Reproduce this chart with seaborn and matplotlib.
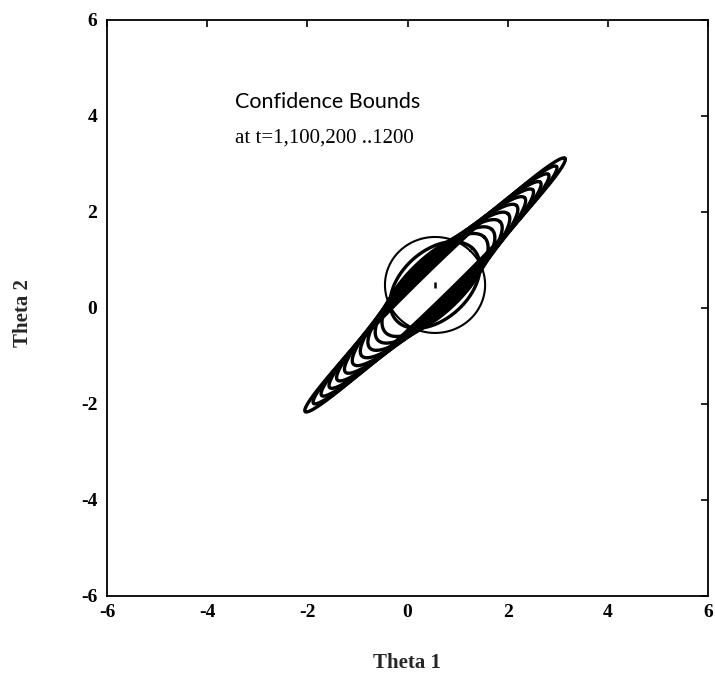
import numpy as np
import pandas as pd
import matplotlib
matplotlib.use("Agg")
import matplotlib.pyplot as plt
import seaborn as sns

# ---- data ----
times = [1, 100, 200, 300, 400, 500, 600, 700, 800, 900, 1000, 1100, 1200]
semi_major = [1.00, 1.07, 1.40, 1.62, 1.85, 2.08, 2.32, 2.55, 2.78, 3.00, 3.23, 3.46, 3.70]
semi_minor = [1.00, 0.69, 0.56, 0.52, 0.48, 0.45, 0.42, 0.395, 0.37, 0.35, 0.33, 0.31, 0.285]
center_theta1 = 0.55
center_theta2 = 0.48
major_axis_angle_deg = 45.5
x_ticks = [-6, -4, -2, 0, 2, 4, 6]
y_ticks = [-6, -4, -2, 0, 2, 4, 6]
title_line1 = "Confidence Bounds"
title_line2 = "at t=1,100,200 ..1200"

# ---- build ellipse outlines ----
phi = np.linspace(0, 2 * np.pi, 600)
ang = np.deg2rad(major_axis_angle_deg)
frames = []
for t, a, b in zip(times, semi_major, semi_minor):
    u = a * np.cos(phi)
    v = b * np.sin(phi)
    frames.append(pd.DataFrame({
        "t": t,
        "theta1": center_theta1 + u * np.cos(ang) - v * np.sin(ang),
        "theta2": center_theta2 + u * np.sin(ang) + v * np.cos(ang),
    }))
df = pd.concat(frames, ignore_index=True)
center_df = pd.DataFrame({"theta1": [center_theta1], "theta2": [center_theta2]})

sns.set_theme(style="white")
plt.rcParams["font.family"] = ["Liberation Serif", "DejaVu Serif"]
plt.rcParams["axes.unicode_minus"] = False

W, H = 715, 675
fig = plt.figure(figsize=(W / 100, H / 100), dpi=100)
fig.patch.set_facecolor("white")
L, R, T, B = 107, 708, 20, 596
ax = fig.add_axes([L / W, 1 - B / H, (R - L) / W, (B - T) / H])
ax.set_facecolor("white")

# first (t=1) bound drawn thinner, later ones heavier as in the scan
sns.lineplot(data=df[df["t"] == times[0]], x="theta1", y="theta2", units="t",
             estimator=None, sort=False, color="black", linewidth=1.5,
             legend=False, ax=ax)
sns.lineplot(data=df[df["t"] != times[0]], x="theta1", y="theta2", units="t",
             estimator=None, sort=False, color="black", linewidth=2.4,
             legend=False, ax=ax)
sns.scatterplot(data=center_df, x="theta1", y="theta2", marker="|", s=22,
                color="black", linewidth=1.8, ax=ax, legend=False)

ax.set_xlim(-6, 6)
ax.set_ylim(-6, 6)
ax.set_xticks(x_ticks)
ax.set_yticks(y_ticks)
ax.set_xticklabels([str(v) for v in x_ticks])
ax.set_yticklabels([str(v) for v in y_ticks])
ax.set_xlabel("")
ax.set_ylabel("")
ax.tick_params(direction="in", length=5, width=1.2, color="black",
               top=True, right=True, labelsize=14, labelcolor="black")
ax.tick_params(axis="x", pad=6)
ax.tick_params(axis="y", pad=7)
for lbl in ax.get_xticklabels() + ax.get_yticklabels():
    lbl.set_fontweight("bold")
for sp in ax.spines.values():
    sp.set_visible(True)
    sp.set_color("black")
    sp.set_linewidth(1.3)

ax.text(-3.45, 4.3, title_line1, fontsize=15.5, family=["Lato", "DejaVu Sans"],
        color="black", va="center", ha="left")
ax.text(-3.45, 3.55, title_line2, fontsize=15, family=["Liberation Serif", "DejaVu Serif"],
        color="black", va="center", ha="left")

fig.text(407 / W, 1 - 663 / H, "Theta 1", fontsize=15, fontweight="bold",
         ha="center", va="center")
fig.text(23 / W, 1 - 313 / H, "Theta 2", fontsize=15, fontweight="bold",
         ha="center", va="center", rotation=90)

fig.savefig("out.png", dpi=100, facecolor="white")
